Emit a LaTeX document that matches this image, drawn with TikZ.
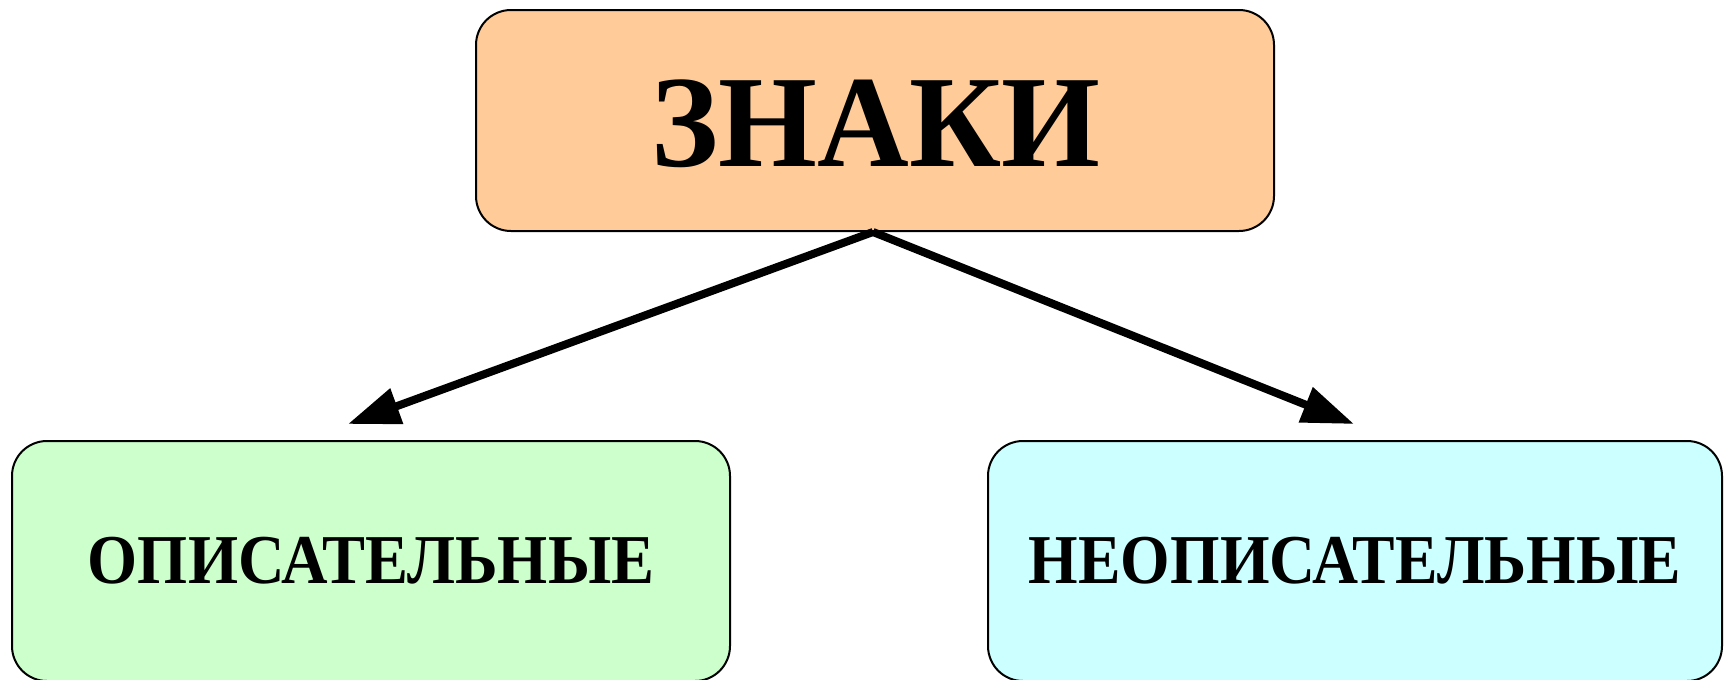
\documentclass[tikz,border=0pt]{standalone}
\usepackage{fontspec}
\setmainfont{Liberation Serif}
\usetikzlibrary{arrows.meta}
\definecolor{peach}{HTML}{FFCC99}
\definecolor{mint}{HTML}{CCFFCC}
\definecolor{aqua}{HTML}{CCFFFF}
\tikzset{
  boxnode/.style={draw=black, line width=2pt, rounded corners=35pt, inner sep=0pt, align=center},
  conn/.style={line width=8pt, -{Triangle[length=52pt,width=36pt]}},
}
\begin{document}
\begin{tikzpicture}[x=1pt,y=-1pt]
\useasboundingbox (0,0) rectangle (1727,680);
\node[boxnode, fill=peach, minimum width=798pt, minimum height=221pt] (top) at (875,120.5) {};
\node[font=\fontsize{131pt}{140pt}\selectfont\bfseries, inner sep=0pt] (toptext) at (876,124) {\scalebox{0.97}[1]{ЗНАКИ}};
\node[boxnode, fill=mint, minimum width=718pt, minimum height=240pt,
      font=\fontsize{70pt}{80pt}\selectfont\bfseries] (left) at (371,561) {\scalebox{0.92}[1]{ОПИСАТЕЛЬНЫЕ}};
\node[boxnode, fill=aqua, minimum width=734pt, minimum height=240pt,
      font=\fontsize{70pt}{80pt}\selectfont\bfseries] (right) at (1355,561) {\scalebox{0.91}[1]{НЕОПИСАТЕЛЬНЫЕ}};
\coordinate (apex) at (873,232);
\coordinate (ltip) at (348,424);
\coordinate (rtip) at (1354,424);
\draw[conn] (apex) -- (ltip);
\draw[conn] (apex) -- (rtip);
\end{tikzpicture}
\end{document}
